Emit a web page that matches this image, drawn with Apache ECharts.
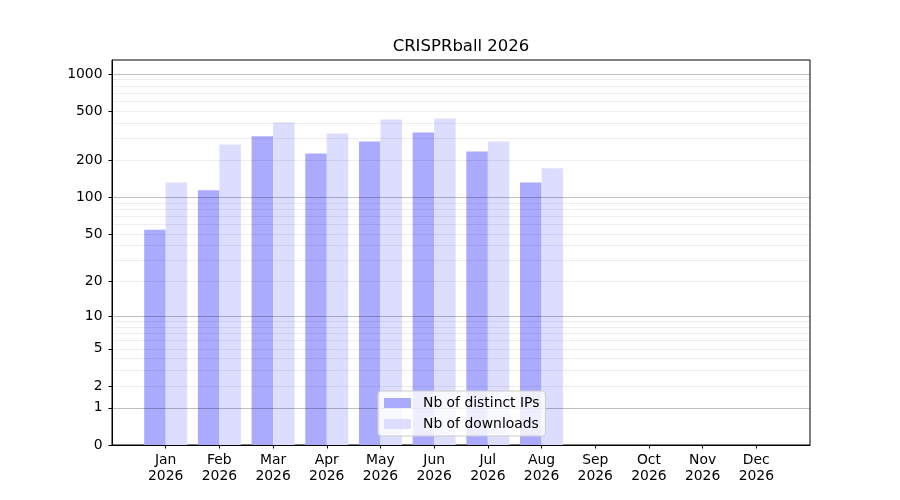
<!doctype html>
<html lang="en">
<head>
    <meta charset="UTF-8">
    <title>CRISPRball 2026</title>
    <script src="https://cdn.jsdelivr.net/npm/echarts@6/dist/echarts.min.js"></script>
    <style>
        html, body { margin: 0; padding: 0; background: #fff; }
        #main { width: 900px; height: 500px; }
    </style>
</head>
<body>
<div id="main"></div>
<script type="text/javascript">
    // months on the x axis
    var months = ['Jan', 'Feb', 'Mar', 'Apr', 'May', 'Jun', 'Jul', 'Aug', 'Sep', 'Oct', 'Nov', 'Dec'];
    var year = '2026';
    // monthly counts (Sep..Dec have no data yet)
    var distinctIps = [54, 114, 314, 227, 284, 336, 236, 132];
    var downloads = [132, 269, 405, 330, 429, 437, 284, 172];
    // y axis: log10(v + 1) scale
    var yTickValues = [0, 1, 2, 5, 10, 20, 50, 100, 200, 500, 1000];
    var majorGrid = [1, 10, 100, 1000];
    var minorGrid = [2, 3, 4, 5, 6, 7, 8, 9, 20, 30, 40, 50, 60, 70, 80, 90, 200, 300, 400, 500, 600, 700, 800, 900];
    var yTop = 1300;

    function fwd(v) { return Math.log10(v + 1); }
    function inv(t) { return Math.pow(10, t) - 1; }

    var monthIdx = months.map(function (m, i) { return i; });
    var font = 'DejaVu Sans';
    var yMax = fwd(yTop);

    function gridAxis(values, color) {
        return {
            type: 'value', min: 0, max: yMax, z: 5, position: 'left',
            axisLine: {show: false, onZero: false},
            axisLabel: {show: false},
            axisTick: {show: false, customValues: values.map(fwd)},
            splitLine: {show: true, lineStyle: {color: color, width: 1}}
        };
    }

    var myChart = echarts.init(document.getElementById('main'));

    var option = {
        animation: false,
        backgroundColor: '#fff',
        title: {
            text: 'CRISPRball 2026',
            left: 456, top: 33, textAlign: 'center',
            textStyle: {fontFamily: font, fontSize: 16.5, fontWeight: 'normal', color: '#000'}
        },
        grid: {
            left: 112, right: 90, top: 60, bottom: 55,
            show: true, borderColor: '#000', borderWidth: 1, backgroundColor: 'transparent'
        },
        legend: {
            orient: 'vertical',
            left: 378, top: 391,
            z: 10,
            padding: [5, 6, 5, 6],
            itemWidth: 27, itemHeight: 10, itemGap: 7,
            icon: 'rect',
            backgroundColor: 'rgba(255,255,255,0.8)',
            borderColor: '#cccccc', borderWidth: 1, borderRadius: 3,
            textStyle: {fontFamily: font, fontSize: 13.9, color: '#000', padding: [0, 0, 0, 7]},
            data: ['Nb of distinct IPs', 'Nb of downloads']
        },
        xAxis: {
            type: 'value', min: -1, max: 12, position: 'bottom',
            axisLine: {show: true, onZero: false, lineStyle: {color: '#000', width: 1}},
            splitLine: {show: false},
            axisTick: {show: true, customValues: monthIdx, length: 3.5, lineStyle: {color: '#000'}},
            axisLabel: {
                customValues: monthIdx, margin: 7,
                fontFamily: font, fontSize: 13.9, color: '#000', lineHeight: 16,
                formatter: function (v) { return months[Math.round(v)] + '\n' + year; }
            }
        },
        yAxis: [
            {
                type: 'value', min: 0, max: yMax, position: 'left',
                axisLine: {show: true, onZero: false, lineStyle: {color: '#000', width: 1}},
                splitLine: {show: false},
                axisTick: {show: true, customValues: yTickValues.map(fwd), length: 3.5, lineStyle: {color: '#000'}},
                axisLabel: {
                    customValues: yTickValues.map(fwd), margin: 9.5,
                    fontFamily: font, fontSize: 13.9, color: '#000',
                    formatter: function (v) { return String(Math.round(inv(v))); }
                }
            },
            gridAxis(minorGrid, 'rgba(0,0,0,0.07)'),
            gridAxis(majorGrid, 'rgba(0,0,0,0.25)')
        ],
        series: [
            {
                name: 'Nb of distinct IPs', type: 'bar', yAxisIndex: 0,
                barWidth: 21.5, barGap: '0%',
                itemStyle: {color: '#aaaaff'},
                data: distinctIps.map(function (v, i) { return [i, fwd(v)]; })
            },
            {
                name: 'Nb of downloads', type: 'bar', yAxisIndex: 0,
                barWidth: 21.5, barGap: '0%',
                itemStyle: {color: '#ddddff'},
                data: downloads.map(function (v, i) { return [i, fwd(v)]; })
            }
        ]
    };

    myChart.setOption(option);
</script>
</body>
</html>
